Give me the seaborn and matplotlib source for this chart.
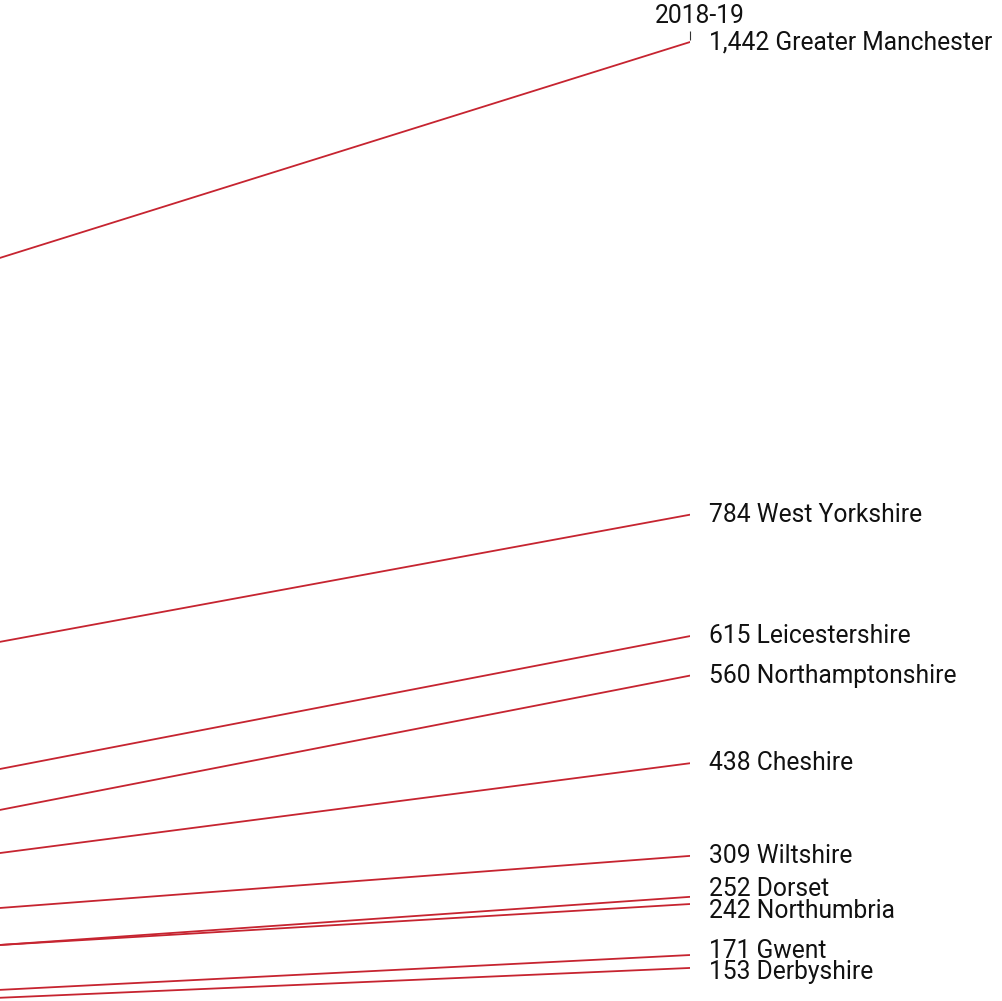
import matplotlib
matplotlib.use("Agg")
import matplotlib.pyplot as plt
import matplotlib.transforms as mtransforms
import seaborn as sns
import pandas as pd

# Values (2017-18 values estimated from the slope of each line)
forces = ["Greater Manchester", "West Yorkshire", "Leicestershire", "Northamptonshire",
          "Cheshire", "Wiltshire", "Dorset", "Northumbria", "Gwent", "Derbyshire"]
values_1718 = [841, 430, 245, 186, 188, 164, 118, 128, 74, 70]
values_1819 = [1442, 784, 615, 560, 438, 309, 252, 242, 171, 153]
years = ["2017-18", "2018-19"]

line_color = "#c62430"
text_color = "#111111"

rows = []
for f, a, b in zip(forces, values_1718, values_1819):
    rows.append({"force": f, "x": 0, "value": a})
    rows.append({"force": f, "x": 1, "value": b})
df = pd.DataFrame(rows)

sns.set_style("white")
plt.rcParams["font.family"] = ["Roboto", "DejaVu Sans"]

W, H = 1002, 1001
fig = plt.figure(figsize=(W / 100, H / 100), dpi=100)
# the chart is cropped: the 2017-18 column sits off the left edge
ax = fig.add_axes([-690 / W, 0, 1380 / W, 1])

sns.lineplot(data=df, x="x", y="value", units="force", estimator=None,
             color=line_color, linewidth=1.3, ax=ax, legend=False)

ax.set_xlim(0, 1)
ax.set_ylim(107, 1500.5)
for s in ax.spines.values():
    s.set_visible(False)
ax.set_xlabel("")
ax.set_ylabel("")
ax.set_yticks([])

# top tick for the year column
ax.xaxis.set_ticks_position("top")
ax.spines["top"].set_position(("axes", 1 - 40 / H))
ax.set_xticks([0, 1])
ax.set_xticklabels([])
ax.tick_params(axis="x", direction="out", length=6.5, width=0.8, color="#333333")
offset = mtransforms.offset_copy(ax.transData, fig=fig, x=10, y=0, units="dots")
ax.text(1, 1 - 16 / H, years[1],
        transform=mtransforms.blended_transform_factory(offset, ax.transAxes),
        ha="center", va="center", fontsize=17.7, color=text_color)

# label positions, pushed apart where they would overlap
min_gap = 30.5
label_y = list(values_1819)
order = sorted(range(len(label_y)), key=lambda i: -label_y[i])
for _ in range(20):
    for j in range(len(order) - 1):
        a, b = order[j], order[j + 1]
        gap = label_y[a] - label_y[b]
        if gap < min_gap:
            push = (min_gap - gap) / 2
            label_y[a] += push
            label_y[b] -= push

lab_tr = mtransforms.offset_copy(ax.transData, fig=fig, x=19, y=0, units="dots")
for f, v, ly in zip(forces, values_1819, label_y):
    ax.text(1, ly, f"{v:,} {f}", transform=lab_tr, ha="left", va="center",
            fontsize=17.7, color=text_color, clip_on=False)

fig.savefig("out.png", dpi=100)
